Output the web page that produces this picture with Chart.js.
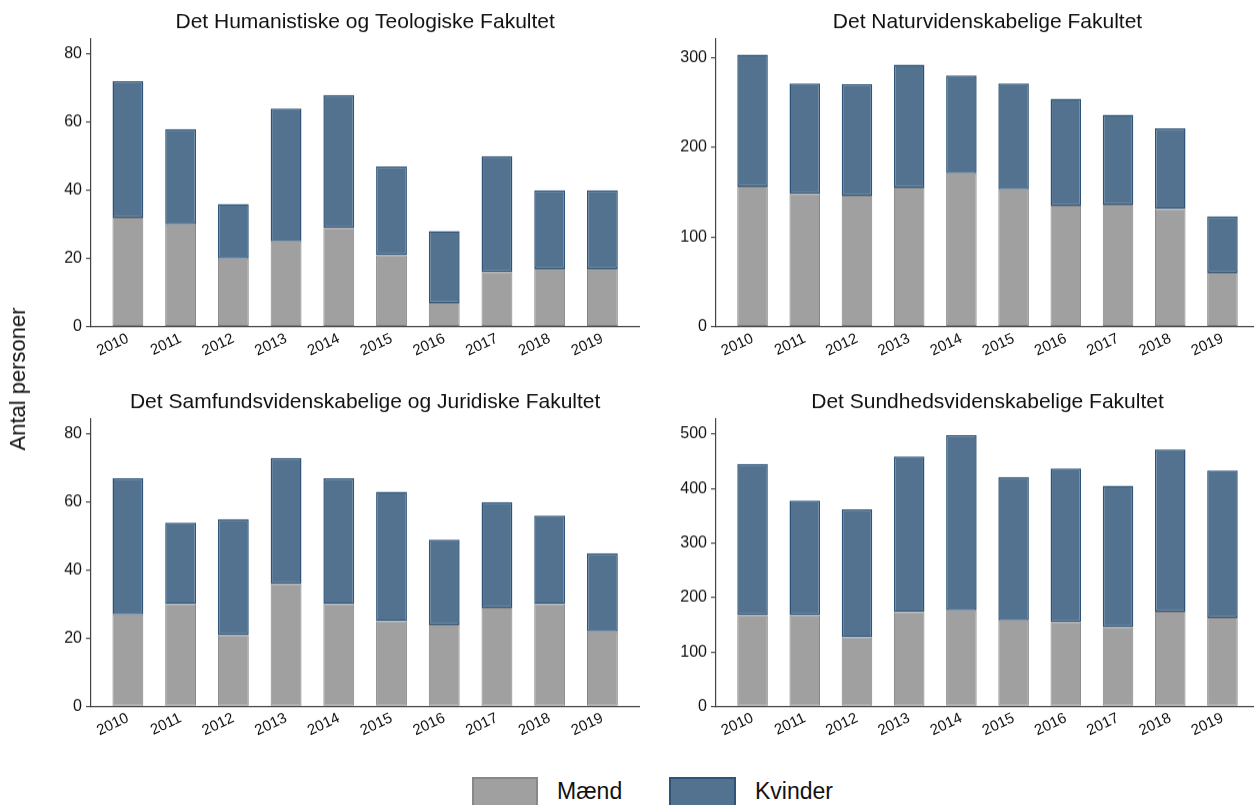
<!DOCTYPE html>
<html>
<head>
<meta charset="utf-8">
<script src="https://cdn.jsdelivr.net/npm/chart.js@4.4.1/dist/chart.umd.min.js"></script>
<style>
  html, body { margin: 0; padding: 0; background: #ffffff; overflow: hidden; }
  body { width: 1254px; height: 805px; position: relative; font-family: "Liberation Sans", Arial, sans-serif; color: #111111; }
  .panel { position: absolute; }
  #ylab { position: absolute; left: 18px; top: 379px; transform: translate(-50%, -50%) rotate(-90deg); font-size: 22px; white-space: nowrap; }
  .lg-box { position: absolute; box-sizing: border-box; }
  .lg-text { position: absolute; font-size: 23px; line-height: 23px; }
</style>
</head>
<body>
<div class="panel" id="p0"><canvas id="c0"></canvas></div>
<div class="panel" id="p1"><canvas id="c1"></canvas></div>
<div class="panel" id="p2"><canvas id="c2"></canvas></div>
<div class="panel" id="p3"><canvas id="c3"></canvas></div>
<div id="ylab">Antal personer</div>
<div class="lg-box" style="left:472px;top:777px;width:66px;height:30px;background:#a0a0a0;border:2px solid #888888;"></div>
<div class="lg-text" style="left:557px;top:780px;">Mænd</div>
<div class="lg-box" style="left:669px;top:777px;width:67px;height:30px;background:#52728f;border:2px solid #2f5479;"></div>
<div class="lg-text" style="left:755px;top:780px;">Kvinder</div>
<script>
// ---- data ----
const years = ['2010','2011','2012','2013','2014','2015','2016','2017','2018','2019'];
const seriesNames = ['Mænd', 'Kvinder'];
const titles = [
  'Det Humanistiske og Teologiske Fakultet',
  'Det Naturvidenskabelige Fakultet',
  'Det Samfundsvidenskabelige og Juridiske Fakultet',
  'Det Sundhedsvidenskabelige Fakultet'
];
const humMaend    = [32, 30, 20, 25, 29, 21, 7, 16, 17, 17];
const humKvinder  = [40, 28, 16, 39, 39, 26, 21, 34, 23, 23];
const natMaend    = [156, 148, 146, 155, 171, 153, 135, 136, 131, 60];
const natKvinder  = [147, 123, 124, 137, 109, 118, 119, 100, 90, 63];
const samMaend    = [27, 30, 21, 36, 30, 25, 24, 29, 30, 22];
const samKvinder  = [40, 24, 34, 37, 37, 38, 25, 31, 26, 23];
const sunMaend    = [168, 168, 127, 173, 176, 158, 155, 146, 174, 163];
const sunKvinder  = [277, 210, 235, 286, 322, 263, 282, 259, 298, 270];
const ticksHum = [0, 20, 40, 60, 80];
const ticksNat = [0, 100, 200, 300];
const ticksSam = [0, 20, 40, 60, 80];
const ticksSun = [0, 100, 200, 300, 400, 500];

// ---- layout / style ----
const FONT = '"Liberation Sans", Arial, sans-serif';
const TEXT = '#111111';
const AXIS = '#444444';
const GREY = '#a0a0a0', GREY_B = '#828282';
const BLUE = '#52728f', BLUE_B = '#2f5479';
const Y_W = 70, X_H = 45, TITLE_H = 39, PAD_R = 5;

const panels = [
  { m: humMaend, k: humKvinder, ticks: ticksHum, ymax: 84.4, x0: 90.7, x1: 639, t: 39, b: 325.7 },
  { m: natMaend, k: natKvinder, ticks: ticksNat, ymax: 320.4, x0: 716, x1: 1259, t: 39, b: 325.7 },
  { m: samMaend, k: samKvinder, ticks: ticksSam, ymax: 84.4, x0: 90.7, x1: 639, t: 419.3, b: 705.7 },
  { m: sunMaend, k: sunKvinder, ticks: ticksSun, ymax: 527.6, x0: 716, x1: 1259, t: 419.3, b: 705.7 }
];

panels.forEach((p, i) => {
  const div = document.getElementById('p' + i);
  const w = (p.x1 - p.x0) + Y_W + PAD_R;
  const h = (p.b - p.t) + TITLE_H + X_H;
  div.style.left = (p.x0 - Y_W) + 'px';
  div.style.top = (p.t - TITLE_H) + 'px';
  div.style.width = w + 'px';
  div.style.height = h + 'px';
  const toXY = arr => arr.map((v, j) => ({ x: j, y: v }));
  new Chart(document.getElementById('c' + i), {
    type: 'bar',
    data: {
      datasets: [
        { label: seriesNames[0], data: toXY(p.m), backgroundColor: GREY, borderColor: GREY_B,
          borderWidth: 1, borderSkipped: false, categoryPercentage: 1, barPercentage: 0.585 },
        { label: seriesNames[1], data: toXY(p.k), backgroundColor: BLUE, borderColor: BLUE_B,
          borderWidth: 1.5, borderSkipped: false, categoryPercentage: 1, barPercentage: 0.585 }
      ]
    },
    options: {
      responsive: true,
      maintainAspectRatio: false,
      animation: false,
      devicePixelRatio: 1,
      layout: { padding: { left: 0, right: PAD_R, top: 0, bottom: 0 } },
      plugins: {
        legend: { display: false },
        tooltip: { enabled: false },
        title: {
          display: true, text: titles[i], fullSize: false, color: TEXT,
          font: { family: FONT, size: 21, weight: 'normal' },
          padding: { top: 10, bottom: TITLE_H - 10 - 25.2 }
        }
      },
      scales: {
        x: {
          type: 'linear', stacked: true, min: -0.7, max: 9.7, offset: false,
          grid: { display: false, drawTicks: false },
          border: { display: true, color: AXIS, width: 1.2 },
          afterBuildTicks: s => { s.ticks = years.map((_, j) => ({ value: j })); },
          afterFit: s => { s.height = X_H; },
          ticks: {
            autoSkip: false, minRotation: 25, maxRotation: 25, padding: 3, color: TEXT,
            font: { family: FONT, size: 15 },
            callback: v => years[v]
          }
        },
        y: {
          stacked: true, min: 0, max: p.ymax,
          grid: { display: true, drawOnChartArea: false, drawTicks: true, tickLength: 5, color: AXIS, lineWidth: 1.2 },
          border: { display: true, color: AXIS, width: 1.2 },
          afterBuildTicks: s => { s.ticks = p.ticks.map(v => ({ value: v })); },
          afterFit: s => { s.width = Y_W; },
          ticks: { padding: 4, color: TEXT, font: { family: FONT, size: 16 } }
        }
      }
    }
  });
});
</script>
</body>
</html>
